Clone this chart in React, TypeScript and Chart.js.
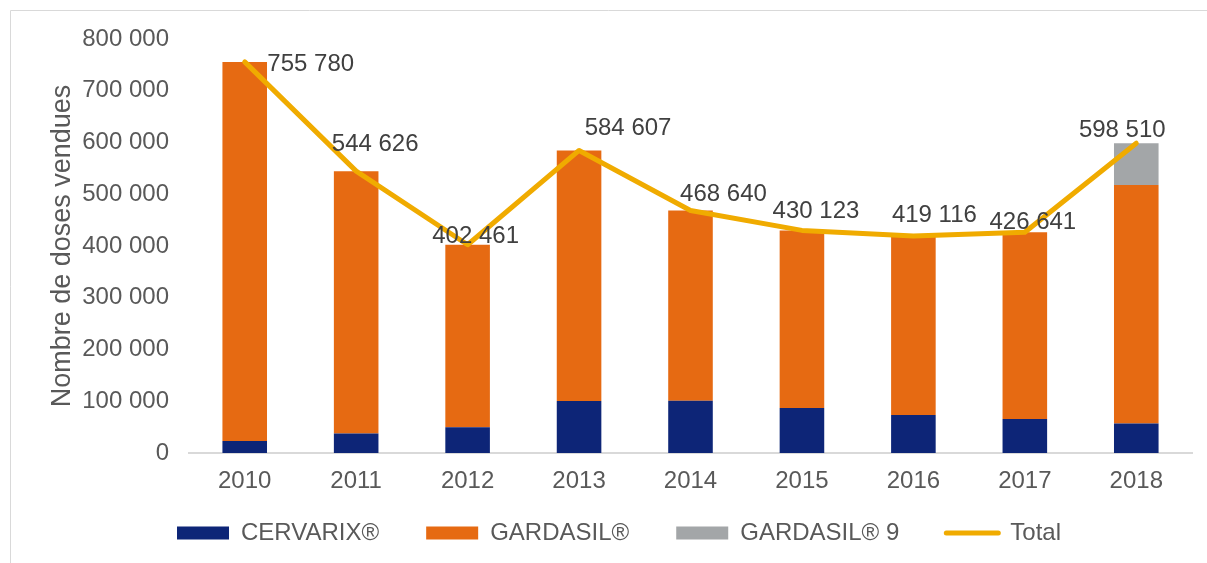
import React, { useEffect, useRef } from "react";
import { Chart, registerables } from "chart.js";

Chart.register(...registerables);

const years = ["2010", "2011", "2012", "2013", "2014", "2015", "2016", "2017", "2018"];
const cervarix = [23000, 37500, 50000, 100500, 101000, 87000, 73500, 65700, 56800];
const gardasil = [732780, 507126, 352461, 484107, 367640, 343123, 345616, 360941, 461100];
const gardasil9 = [0, 0, 0, 0, 0, 0, 0, 0, 80610];
const total = [755780, 544626, 402461, 584607, 468640, 430123, 419116, 426641, 598510];
const yTicks = [0, 100000, 200000, 300000, 400000, 500000, 600000, 700000, 800000];

const FONT = "'Liberation Sans', Arial, sans-serif";
const fmt = (v: number) => String(Math.round(v)).replace(/\B(?=(\d{3})+(?!\d))/g, " ");

const frameAndLabels = {
  id: "frameAndLabels",
  afterLayout(chart: any) {
    // let the x tick labels draw below the (compact) x-axis box without being clipped
    const x = chart.scales.x;
    x.bottom = x.top + 60;
    x.height = 60;
  },
  beforeDraw(chart: any) {
    const ctx = chart.ctx;
    ctx.save();
    ctx.strokeStyle = "#D9D9D9";
    ctx.lineWidth = 1;
    ctx.beginPath();
    ctx.moveTo(10.5, chart.height);
    ctx.lineTo(10.5, 10.5);
    ctx.lineTo(chart.width, 10.5);
    ctx.stroke();
    ctx.restore();
  },
  afterDatasetsDraw(chart: any, _args: any, opts: any) {
    const ctx = chart.ctx;
    const meta = chart.getDatasetMeta(3);
    const offsets: number[][] = opts.offsets;
    ctx.save();
    ctx.font = `24px ${FONT}`;
    ctx.fillStyle = "#404040";
    ctx.textAlign = "center";
    ctx.textBaseline = "middle";
    meta.data.forEach((pt: any, i: number) => {
      const [dx, dy] = offsets[i];
      ctx.fillText(fmt(total[i]), pt.x + dx, pt.y + dy);
    });
    ctx.restore();
  },
};

export default function App() {
  const ref = useRef<HTMLCanvasElement>(null);
  useEffect(() => {
    document.body.style.margin = "0";
    const chart = new Chart(ref.current!, {
      type: "bar",
      data: {
        labels: years,
        datasets: [
          { label: "CERVARIX®", data: cervarix, backgroundColor: "#0D2577", stack: "doses", order: 1 },
          { label: "GARDASIL®", data: gardasil, backgroundColor: "#E66A12", stack: "doses", order: 1 },
          { label: "GARDASIL® 9", data: gardasil9, backgroundColor: "#A3A6A8", stack: "doses", order: 1 },
          {
            type: "line",
            label: "Total",
            data: total,
            borderColor: "#F0AB00",
            backgroundColor: "#F0AB00",
            borderWidth: 5,
            pointRadius: 0,
            tension: 0,
            borderJoinStyle: "round",
            borderCapStyle: "round",
            stack: "total",
            order: 0,
          } as any,
        ],
      },
      options: {
        responsive: false,
        animation: false,
        datasets: { bar: { categoryPercentage: 1, barPercentage: 0.4 } },
        layout: { padding: { left: 46, right: 15, top: 39, bottom: 8 } },
        scales: {
          x: {
            stacked: true,
            grid: { display: false, drawTicks: false },
            border: { display: true, color: "#D9D9D9", width: 2 },
            ticks: { color: "#595959", font: { family: FONT, size: 24 }, padding: 14, maxRotation: 0 },
            afterFit: (s: any) => { s.height = 21; },
          },
          y: {
            stacked: true,
            min: 0,
            max: 800000,
            grid: { display: false, drawTicks: false },
            border: { display: false },
            afterBuildTicks: (s: any) => { s.ticks = yTicks.map((v) => ({ value: v })); },
            ticks: {
              color: "#595959",
              font: { family: FONT, size: 24 },
              padding: 20,
              callback: (v: any) => fmt(Number(v)),
            },
            title: {
              display: true,
              text: "Nombre de doses vendues",
              color: "#595959",
              font: { family: FONT, size: 27 },
              padding: { top: 0, bottom: 0 },
            },
            afterFit: (s: any) => { s.width = 143; },
          },
        },
        plugins: {
          legend: {
            position: "bottom",
            labels: {
              usePointStyle: true,
              pointStyleWidth: 52,
              boxHeight: 13,
              padding: 47,
              color: "#595959",
              font: { family: FONT, size: 24 },
              generateLabels: (chart: any) =>
                chart.data.datasets.map((ds: any, i: number) => {
                  const isLine = ds.type === "line";
                  return {
                    text: ds.label,
                    fillStyle: isLine ? "#F0AB00" : ds.backgroundColor,
                    strokeStyle: isLine ? "#F0AB00" : ds.backgroundColor,
                    lineWidth: isLine ? 5 : 0,
                    lineCap: "round",
                    pointStyle: isLine ? "line" : "rect",
                    fontColor: "#595959",
                    hidden: false,
                    datasetIndex: i,
                  };
                }),
            },
          },
          tooltip: { enabled: false },
          frameAndLabels: {
            offsets: [[66, 2], [19, -27], [8, -8], [49, -22], [33, -16], [14, -19], [21, -21], [8, -10], [-14, -13]],
          },
        } as any,
      },
      plugins: [frameAndLabels],
    });
    return () => chart.destroy();
  }, []);
  return (
    <div style={{ position: "absolute", left: 0, top: 0, width: 1207, height: 563, background: "#fff" }}>
      <canvas ref={ref} width={1207} height={563} />
    </div>
  );
}
